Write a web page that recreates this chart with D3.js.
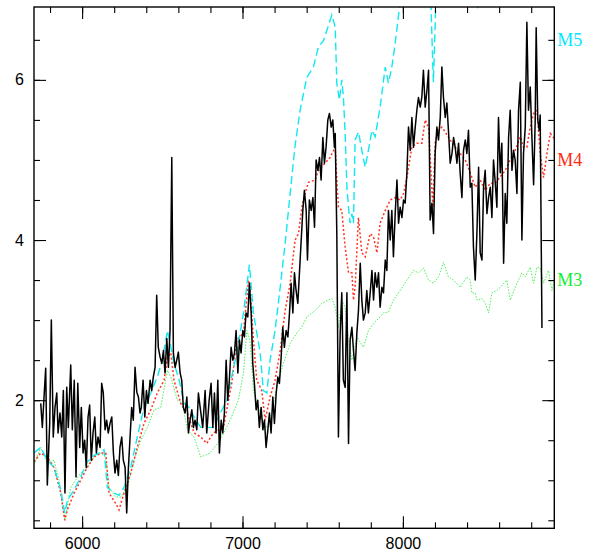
<!DOCTYPE html>
<html>
<head>
<meta charset="utf-8">
<script src="https://cdn.jsdelivr.net/npm/d3@7"></script>
<style>
  body { margin: 0; background: #fff; }
  .tick text { font-family: "Liberation Sans", Arial, sans-serif; font-size: 16px; fill: #000; }
  .label { font-family: "Liberation Serif", "Times New Roman", serif; font-size: 18px; }
</style>
</head>
<body>
<div class="canvas"></div>
<script>
// observed spectrum [wavelength, flux]
const obs = [
  [5742,1.96],[5752,1.66],[5762,2.02],[5773,2.40],[5783,0.94],[5798,1.71],[5808,3.00],[5820,1.54],[5831,1.91],[5842,2.09],
  [5850,1.59],[5862,1.84],[5873,1.54],[5883,2.12],[5893,0.84],[5904,2.16],[5914,1.66],[5929,2.44],[5939,1.63],[5951,2.25],
  [5962,1.04],[5973,2.21],[5985,1.41],[5995,1.91],[6006,1.34],[6016,1.50],[6026,1.16],[6037,1.79],[6047,1.94],[6057,1.25],
  [6068,1.59],[6079,1.79],[6089,1.34],[6099,1.54],[6112,1.41],[6122,2.21],[6132,2.09],[6143,1.63],[6153,1.75],[6163,1.59],
  [6174,1.71],[6185,1.79],[6195,1.34],[6205,1.09],[6216,1.25],[6226,1.06],[6236,1.41],[6247,1.54],[6257,1.25],[6268,1.16],
  [6278,0.59],[6288,1.13],[6299,1.54],[6309,1.91],[6319,1.75],[6330,2.41],[6341,2.10],[6351,2.04],[6361,1.84],[6369,1.91],
  [6380,2.25],[6391,1.79],[6401,2.12],[6411,1.96],[6424,2.25],[6434,2.12],[6444,2.29],[6455,2.41],[6465,3.31],[6475,2.66],
  [6486,2.54],[6497,2.46],[6507,2.62],[6517,2.34],[6528,2.77],[6538,2.41],[6548,2.87],[6559,5.03],[6569,2.59],[6580,2.41],
  [6590,2.50],[6600,2.60],[6611,2.34],[6621,2.25],[6631,1.91],[6642,1.84],[6653,2.04],[6663,1.59],[6673,1.75],[6684,1.88],
  [6694,1.66],[6704,1.75],[6715,1.63],[6725,2.09],[6736,1.91],[6752,1.66],[6767,2.12],[6777,1.59],[6792,2.00],[6804,2.21],
  [6815,1.66],[6825,2.09],[6835,1.59],[6846,2.25],[6856,1.34],[6867,1.75],[6877,1.59],[6887,1.84],[6898,2.50],[6908,2.00],
  [6918,2.25],[6929,2.66],[6940,2.50],[6950,2.59],[6960,2.87],[6971,2.34],[6981,2.75],[6991,2.59],[7002,2.87],[7012,2.79],
  [7022,3.09],[7033,3.04],[7043,3.46],[7054,3.09],[7064,2.46],[7074,2.21],[7085,1.88],[7095,2.00],[7105,1.66],[7116,1.91],
  [7127,1.63],[7137,1.75],[7147,1.41],[7158,1.63],[7168,1.84],[7178,1.59],[7189,2.04],[7199,1.71],[7210,2.09],[7220,2.29],
  [7230,2.21],[7241,2.54],[7251,2.91],[7261,2.66],[7272,2.87],[7283,2.79],[7293,3.09],[7303,3.46],[7314,3.09],[7324,3.59],
  [7334,3.37],[7345,3.21],[7355,3.59],[7366,4.00],[7376,4.37],[7386,4.62],[7397,4.37],[7405,3.75],[7417,4.50],[7428,4.37],
  [7439,4.53],[7449,4.16],[7459,5.00],[7470,4.87],[7480,5.03],[7490,4.75],[7501,5.28],[7511,4.96],[7521,5.16],[7532,5.50],
  [7542,5.58],[7553,5.41],[7563,5.50],[7573,5.16],[7578,5.33],[7588,4.08],[7598,1.54],[7609,2.84],[7619,3.34],[7629,2.25],
  [7640,2.16],[7651,3.34],[7661,1.46],[7671,2.75],[7682,2.91],[7692,2.62],[7702,2.37],[7713,2.84],[7723,3.12],[7734,3.71],
  [7744,3.25],[7754,3.00],[7765,3.09],[7775,3.37],[7785,3.09],[7796,3.34],[7807,3.62],[7817,3.25],[7827,3.59],[7838,3.41],
  [7848,3.59],[7858,3.16],[7869,3.41],[7879,3.34],[7890,3.75],[7900,3.62],[7910,4.37],[7921,4.00],[7931,4.37],[7941,3.79],
  [7952,4.33],[7963,4.75],[7973,4.21],[7983,4.41],[7994,4.28],[8004,4.50],[8014,4.46],[8025,4.84],[8035,5.41],[8046,5.12],
  [8056,5.53],[8066,5.16],[8077,5.41],[8087,5.62],[8097,5.78],[8108,5.66],[8118,5.78],[8128,6.12],[8139,5.66],[8150,5.87],
  [8160,6.12],[8170,4.25],[8181,4.46],[8191,4.08],[8201,5.08],[8212,5.41],[8222,5.25],[8233,5.53],[8243,6.16],[8253,5.78],
  [8264,5.53],[8274,5.71],[8284,5.37],[8295,4.96],[8306,5.08],[8316,5.28],[8326,5.16],[8337,4.96],[8347,5.21],[8357,4.84],
  [8368,4.53],[8378,5.12],[8389,5.25],[8399,5.08],[8409,5.37],[8420,4.66],[8430,4.71],[8440,3.91],[8451,3.50],[8462,4.12],
  [8472,4.91],[8482,3.84],[8493,3.75],[8503,4.66],[8513,4.87],[8524,4.33],[8534,4.53],[8545,4.66],[8555,4.28],[8565,5.00],
  [8576,4.71],[8586,4.41],[8596,5.53],[8607,4.84],[8617,5.21],[8628,3.71],[8638,4.58],[8648,4.21],[8659,5.28],[8669,5.62],
  [8680,4.87],[8690,5.12],[8700,5.00],[8711,4.58],[8721,5.62],[8732,5.97],[8742,4.00],[8752,5.08],[8763,5.41],[8773,6.72],
  [8783,5.62],[8794,5.91],[8805,5.25],[8815,4.69],[8825,5.50],[8831,6.65],[8841,5.50],[8850,5.37],[8856,5.56],[8867,2.90]
]

// model M5 (goes off the top of the frame past 8000)
const m5 = [
  [5700,1.34],[5742,1.41],[5783,1.25],[5825,1.16],[5867,0.88],[5892,0.59],[5908,0.75],[5950,0.88],[5991,1.04],[6032,1.23],
  [6074,1.31],[6116,1.35],[6137,1.38],[6157,0.91],[6199,0.84],[6230,0.81],[6261,0.91],[6303,1.16],[6344,1.54],[6386,1.91],
  [6428,2.09],[6469,2.29],[6500,2.50],[6532,2.87],[6553,2.66],[6573,2.46],[6605,2.25],[6636,1.96],[6667,1.91],[6698,1.79],
  [6740,1.66],[6817,1.66],[6902,2.00],[6964,2.59],[7006,3.09],[7043,3.69],[7068,3.09],[7089,2.84],[7110,2.59],[7130,2.12],
  [7152,2.09],[7172,2.50],[7203,2.87],[7235,3.41],[7266,3.96],[7297,4.58],[7328,5.18],[7359,5.62],[7401,6.03],[7442,6.16],
  [7473,6.41],[7505,6.49],[7526,6.62],[7557,6.81],[7578,6.66],[7588,5.96],[7604,5.75],[7619,6.00],[7629,5.79],[7640,5.33],
  [7651,4.66],[7661,4.41],[7671,4.21],[7682,4.33],[7692,4.21],[7702,5.25],[7723,5.35],[7744,5.12],[7765,4.91],[7785,5.12],
  [7807,5.37],[7827,5.29],[7858,5.66],[7890,6.16],[7910,5.96],[7931,6.16],[7952,6.46],[7979,6.91],[8014,7.30],[8050,7.60],
  [8100,7.80],[8150,7.60],[8170,7.30],[8180,6.60],[8190,5.97],[8200,6.60],[8210,7.30],[8250,7.80],[8300,7.60],[8380,7.30],
  [8440,7.10],[8470,6.88],[8500,7.10],[8600,7.60],[8700,7.80],[8800,7.90],[8944,8.00]
]

// model M4
const m4 = [
  [5700,1.23],[5742,1.34],[5783,1.29],[5825,1.16],[5867,0.84],[5892,0.50],[5908,0.63],[5950,0.84],[5991,1.00],[6032,1.16],
  [6074,1.29],[6116,1.34],[6147,1.34],[6168,0.84],[6210,0.71],[6230,0.63],[6261,0.84],[6303,1.09],[6344,1.41],[6386,1.71],
  [6428,1.88],[6469,2.09],[6511,2.25],[6532,2.54],[6553,2.59],[6573,2.25],[6615,1.96],[6656,1.84],[6698,1.59],[6740,1.54],
  [6777,1.46],[6818,1.59],[6881,1.66],[6933,2.21],[6964,2.75],[7006,2.84],[7037,3.50],[7047,3.41],[7068,2.75],[7089,2.25],
  [7120,2.12],[7141,1.75],[7172,2.04],[7203,2.25],[7235,2.62],[7266,3.12],[7297,3.46],[7328,4.00],[7349,4.08],[7370,4.41],
  [7390,4.58],[7411,4.72],[7453,4.75],[7473,4.87],[7515,4.96],[7546,5.03],[7578,5.16],[7588,4.75],[7598,4.41],[7619,4.37],
  [7640,3.91],[7661,3.59],[7682,3.59],[7692,3.25],[7702,3.41],[7723,4.28],[7744,3.84],[7765,3.79],[7796,4.08],[7817,4.04],
  [7838,3.84],[7858,4.21],[7890,4.37],[7921,4.50],[7952,4.53],[7983,4.50],[8004,4.58],[8025,4.78],[8056,5.16],[8087,5.21],
  [8118,5.21],[8139,5.50],[8160,5.41],[8170,5.03],[8187,4.41],[8201,5.21],[8222,5.37],[8243,5.41],[8264,5.35],[8295,5.25],
  [8326,5.16],[8357,5.08],[8389,5.00],[8420,4.84],[8451,4.66],[8482,4.75],[8513,4.62],[8545,4.71],[8576,4.71],[8607,4.79],
  [8638,4.87],[8669,5.00],[8700,5.12],[8732,5.29],[8752,5.16],[8773,5.16],[8794,5.41],[8815,5.58],[8836,5.62],[8856,5.08],
  [8877,4.78],[8898,5.08],[8919,5.33],[8944,5.27]
]

// model M3
const m3 = [
  [5700,1.19],[5742,1.41],[5783,1.21],[5825,1.25],[5856,1.00],[5892,0.50],[5929,0.91],[5960,1.00],[5991,1.09],[6032,1.16],
  [6074,1.29],[6116,1.34],[6147,1.29],[6168,0.91],[6210,0.79],[6241,0.79],[6282,0.91],[6324,1.25],[6366,1.50],[6407,1.66],
  [6449,1.88],[6490,1.91],[6532,2.37],[6553,2.29],[6594,2.00],[6625,1.96],[6656,1.63],[6698,1.54],[6740,1.29],[6798,1.34],
  [6860,1.50],[6923,1.75],[6974,2.00],[7006,2.34],[7027,2.87],[7047,2.75],[7068,2.12],[7099,1.91],[7141,1.63],[7172,1.75],
  [7214,2.16],[7255,2.46],[7297,2.71],[7339,2.84],[7370,2.91],[7401,3.04],[7453,3.12],[7495,3.21],[7536,3.25],[7557,3.27],
  [7578,3.16],[7598,2.91],[7619,3.25],[7640,3.16],[7661,2.75],[7682,2.50],[7713,2.79],[7754,2.66],[7785,2.87],[7817,2.96],
  [7858,3.04],[7879,3.09],[7910,3.10],[7941,3.25],[7983,3.37],[8025,3.50],[8066,3.62],[8097,3.59],[8128,3.65],[8160,3.50],
  [8191,3.46],[8222,3.54],[8253,3.72],[8284,3.54],[8316,3.50],[8357,3.41],[8399,3.54],[8420,3.50],[8430,3.34],[8451,3.34],
  [8462,3.25],[8493,3.27],[8513,3.21],[8534,3.09],[8555,3.34],[8586,3.37],[8607,3.41],[8648,3.50],[8669,3.25],[8711,3.46],
  [8742,3.59],[8763,3.54],[8794,3.66],[8815,3.46],[8836,3.66],[8856,3.65],[8877,3.46],[8908,3.62],[8929,3.37],[8944,3.50]
]

const xMajor = [6000, 7000, 8000]
const xMinor = d3.range(5800, 8901, 200)
const yMajor = [2, 4, 6]
const yMinor = d3.range(0.5, 6.91, 0.5)
const modelLabels = [
  {name: 'M5', level: 6.5, color: '#00e8ff'},
  {name: 'M4', level: 5.0, color: '#ff2a10'},
  {name: 'M3', level: 3.5, color: '#10ee30'}
]

const margin = {top: 7, left: 34}
const width = 520.3
const height = 521.3

const x = d3.scaleLinear().domain([5700, 8944]).range([0, width])
const y = d3.scaleLinear().domain([0.40, 6.91]).range([height, 0])

const svg = d3.select('.canvas')
  .append('svg')
  .attr('width', 599)
  .attr('height', 554)
const graph = svg.append('g')
  .attr('transform', `translate(${margin.left}, ${margin.top})`)

graph.append('clipPath').attr('id', 'clip')
  .append('rect').attr('width', width).attr('height', height)

const line = d3.line().x(d => x(d[0])).y(d => y(d[1]))
const plot = graph.append('g').attr('clip-path', 'url(#clip)')

plot.append('path').datum(m3)
  .attr('d', line).attr('fill', 'none')
  .attr('stroke', '#33ee44').attr('stroke-width', 0.9).attr('stroke-dasharray', '1.5,1.5')
plot.append('path').datum(m4)
  .attr('d', line).attr('fill', 'none')
  .attr('stroke', '#ff3322').attr('stroke-width', 1.5).attr('stroke-dasharray', '2,2.2')
plot.append('path').datum(m5)
  .attr('d', line).attr('fill', 'none')
  .attr('stroke', '#11e8f0').attr('stroke-width', 1.4).attr('stroke-dasharray', '8,4')
plot.append('path').datum(obs)
  .attr('d', line).attr('fill', 'none')
  .attr('stroke', '#000').attr('stroke-width', 1.5).attr('stroke-linejoin', 'round')

// axes, ticks pointing inward on all four sides
const axisStyle = g => {
  g.select('.domain').remove()
  g.selectAll('.tick line').attr('stroke', '#000').attr('stroke-width', 1.1)
}
graph.append('g').attr('transform', `translate(0, ${height})`)
  .call(d3.axisBottom(x).tickValues(xMinor).tickSize(-6).tickFormat(''))
  .call(axisStyle)
graph.append('g').attr('transform', `translate(0, ${height})`)
  .call(d3.axisBottom(x).tickValues(xMajor).tickSize(-12).tickPadding(9).tickFormat(d3.format('d')))
  .call(axisStyle)
graph.append('g')
  .call(d3.axisTop(x).tickValues(xMinor).tickSize(-6).tickFormat(''))
  .call(axisStyle)
graph.append('g')
  .call(d3.axisTop(x).tickValues(xMajor).tickSize(-12).tickFormat(''))
  .call(axisStyle)
graph.append('g')
  .call(d3.axisLeft(y).tickValues(yMinor).tickSize(-6).tickFormat(''))
  .call(axisStyle)
graph.append('g')
  .call(d3.axisLeft(y).tickValues(yMajor).tickSize(-12).tickPadding(10).tickFormat(d3.format('d')))
  .call(axisStyle)
graph.append('g').attr('transform', `translate(${width}, 0)`)
  .call(d3.axisRight(y).tickValues(yMinor).tickSize(-6).tickFormat(''))
  .call(axisStyle)
graph.append('g').attr('transform', `translate(${width}, 0)`)
  .call(d3.axisRight(y).tickValues(yMajor).tickSize(-12).tickFormat(''))
  .call(axisStyle)

graph.append('rect')
  .attr('width', width).attr('height', height)
  .attr('fill', 'none').attr('stroke', '#000').attr('stroke-width', 1.4)

graph.selectAll('.label')
  .data(modelLabels)
  .enter().append('text')
  .attr('class', 'label')
  .attr('x', width + 3)
  .attr('y', d => y(d.level))
  .attr('dy', '0.35em')
  .attr('fill', d => d.color)
  .text(d => d.name)
</script>
</body>
</html>
